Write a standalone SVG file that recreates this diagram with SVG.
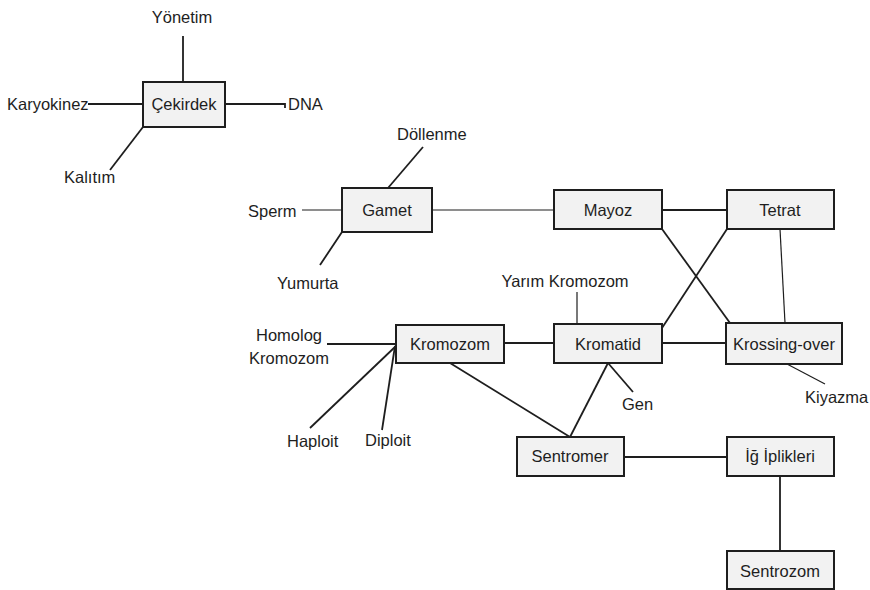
<svg xmlns="http://www.w3.org/2000/svg" width="870" height="590" viewBox="0 0 870 590">
  <style>
    .box rect { fill: #f2f2f2; stroke: #1e1e1e; stroke-width: 2; }
    text { font-family: "Liberation Sans", Arial, sans-serif; font-size: 16.5px; fill: #1e1e1e; }
    .c { text-anchor: middle; }
    #connectors line, #connectors polyline { stroke: #1e1e1e; stroke-width: 1.8; fill: none; }
    #connectors .thin { stroke-width: 1.2; }
  </style>
  <rect width="870" height="590" fill="#ffffff"/>

  <g id="connectors">
    <!-- Çekirdek cluster -->
    <line x1="183" y1="36" x2="183" y2="82"/>
    <line x1="88" y1="104" x2="143" y2="104"/>
    <polyline points="225,104 285,104 285,108"/>
    <line x1="143" y1="127" x2="110" y2="170"/>
    <!-- Gamet cluster -->
    <line x1="423" y1="147" x2="388" y2="188"/>
    <line class="thin" x1="302" y1="210" x2="342" y2="210"/>
    <line x1="342" y1="232" x2="320" y2="265"/>
    <line class="thin" x1="432" y1="210" x2="554" y2="210"/>
    <!-- Mayoz / Tetrat / Krossing-over -->
    <line x1="662" y1="210" x2="727" y2="210"/>
    <line x1="662" y1="229" x2="730" y2="323"/>
    <line x1="727" y1="229" x2="662" y2="328"/>
    <line class="thin" x1="780" y1="229" x2="785" y2="323"/>
    <line x1="662" y1="343" x2="726" y2="343"/>
    <line class="thin" x1="787" y1="364" x2="825" y2="384"/>
    <!-- Kromatid -->
    <line class="thin" x1="577" y1="292" x2="577" y2="324"/>
    <line x1="608" y1="363" x2="633" y2="392"/>
    <line x1="608" y1="363" x2="570" y2="437"/>
    <!-- Kromozom cluster -->
    <line x1="504" y1="343" x2="554" y2="343"/>
    <line x1="327" y1="344" x2="396" y2="344"/>
    <line x1="396" y1="346" x2="310" y2="428"/>
    <line x1="395" y1="346" x2="382" y2="430"/>
    <line x1="450" y1="363" x2="570" y2="437"/>
    <!-- Sentromer / İğ İplikleri / Sentrozom -->
    <line x1="624" y1="457" x2="727" y2="457"/>
    <line x1="780" y1="476" x2="780" y2="551"/>
  </g>

  <g id="cekirdek" class="box"><rect x="143" y="82" width="82" height="45"/><text class="c" x="184" y="110">Çekirdek</text></g>
  <g id="gamet" class="box"><rect x="342" y="188" width="90" height="44"/><text class="c" x="387" y="216">Gamet</text></g>
  <g id="mayoz" class="box"><rect x="554" y="190" width="108" height="39"/><text class="c" x="608" y="216">Mayoz</text></g>
  <g id="tetrat" class="box"><rect x="727" y="190" width="107" height="39"/><text class="c" x="780" y="216">Tetrat</text></g>
  <g id="kromozom" class="box"><rect x="396" y="325" width="108" height="38"/><text class="c" x="450" y="350">Kromozom</text></g>
  <g id="kromatid" class="box"><rect x="554" y="324" width="108" height="39"/><text class="c" x="608" y="350">Kromatid</text></g>
  <g id="krossing-over" class="box"><rect x="726" y="323" width="116" height="41"/><text class="c" x="784" y="350">Krossing-over</text></g>
  <g id="sentromer" class="box"><rect x="517" y="437" width="107" height="39"/><text class="c" x="570" y="462">Sentromer</text></g>
  <g id="ig-iplikleri" class="box"><rect x="727" y="437" width="107" height="39"/><text class="c" x="780" y="462">İğ İplikleri</text></g>
  <g id="sentrozom" class="box"><rect x="727" y="551" width="107" height="38"/><text class="c" x="780" y="577">Sentrozom</text></g>

  <g id="yonetim"><text class="c" x="182" y="23">Yönetim</text></g>
  <g id="karyokinez"><text x="7" y="110">Karyokinez</text></g>
  <g id="dna"><text x="288" y="110">DNA</text></g>
  <g id="kalitim"><text x="64" y="183">Kalıtım</text></g>
  <g id="dollenme"><text x="397" y="140">Döllenme</text></g>
  <g id="sperm"><text x="248" y="217">Sperm</text></g>
  <g id="yumurta"><text x="277" y="289">Yumurta</text></g>
  <g id="yarim-kromozom"><text class="c" x="565" y="287">Yarım Kromozom</text></g>
  <g id="homolog-kromozom"><text class="c" x="289" y="341">Homolog</text><text class="c" x="289" y="364">Kromozom</text></g>
  <g id="haploit"><text x="287" y="447">Haploit</text></g>
  <g id="diploit"><text x="365" y="446">Diploit</text></g>
  <g id="gen"><text x="622" y="410">Gen</text></g>
  <g id="kiyazma"><text x="805" y="403">Kiyazma</text></g>
</svg>
